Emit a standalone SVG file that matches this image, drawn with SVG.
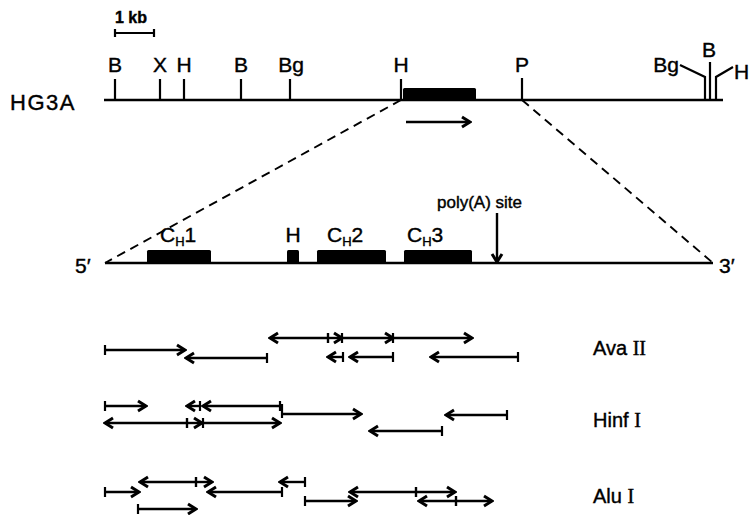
<svg xmlns="http://www.w3.org/2000/svg" width="750" height="515" viewBox="0 0 750 515">
<defs>
<style>
.ln{stroke:#000;stroke-width:2.4;fill:none}
.sk{stroke:#000;stroke-width:2.2;fill:none}
.ds{stroke:#000;stroke-width:1.9;fill:none;stroke-dasharray:9 6}
.s{stroke:#000;stroke-width:2.4;fill:none;marker-start:url(#tk);marker-end:url(#ah)}
.a{stroke:#000;stroke-width:2.4;fill:none;marker-end:url(#ah)}
.ex{fill:#000}
text{font-family:"Liberation Sans","DejaVu Sans",Arial,sans-serif;fill:#000;stroke:#000;stroke-width:0.4}
.lb{font-size:21px}
.rn{font-family:"Liberation Serif","DejaVu Serif",serif}
</style>
<marker id="ah" viewBox="-11 -7 13 14" refX="0" refY="0" markerWidth="13" markerHeight="14" markerUnits="userSpaceOnUse" orient="auto-start-reverse">
<path d="M-8,-5 L0,0 L-8,5" fill="none" stroke="#000" stroke-width="3"/>
</marker>
<marker id="tk" viewBox="-3 -6 6 12" refX="0" refY="0" markerWidth="6" markerHeight="12" markerUnits="userSpaceOnUse" orient="auto">
<path d="M0,-5 V5" stroke="#000" stroke-width="2.2"/>
</marker>
</defs>
<rect width="750" height="515" fill="#fff"/>

<g id="scale">
<text x="115" y="23" font-size="16" font-weight="bold">1 kb</text>
<path class="sk" d="M115,33 H154 M115,29 V37 M154,29 V37"/>
</g>

<g id="hg3a-map">
<text x="10" y="110" font-size="22" letter-spacing="1.5">HG3A</text>
<path class="ln" d="M104,100 H723"/>
<path class="sk" d="M115,79 V100 M160,79 V100 M184,79 V100 M241,79 V100 M290,79 V100 M401,79 V100 M522,78 V100"/>
<path class="sk" d="M680,65 L705,77 V100 M710,62 V100 M733,67 L716,77 V100"/>
<rect class="ex" x="403" y="88" width="73" height="12" rx="1.5"/>
<g class="lb" text-anchor="middle">
<text x="115" y="72">B</text>
<text x="160" y="72">X</text>
<text x="184" y="72">H</text>
<text x="241" y="72">B</text>
<text x="291" y="72">Bg</text>
<text x="401" y="72">H</text>
<text x="522" y="72">P</text>
<text x="709" y="57">B</text>
</g>
<text class="lb" x="679" y="72" text-anchor="end">Bg</text>
<text class="lb" x="734" y="79">H</text>
</g>

<g id="expansion">
<path class="ds" d="M401,100 L105,263"/>
<path class="ds" d="M522,100 L713,263"/>
</g>

<g id="gene">
<path class="ln" d="M105,263 H713"/>
<rect class="ex" x="147" y="250" width="64" height="13" rx="1.5"/>
<rect class="ex" x="287" y="250" width="12" height="13" rx="1.5"/>
<rect class="ex" x="317" y="250" width="69" height="13" rx="1.5"/>
<rect class="ex" x="404" y="250" width="68" height="13" rx="1.5"/>
<text class="lb" x="75" y="273">5′</text>
<text class="lb" x="719" y="273">3′</text>
<text class="lb" x="160" y="242">C<tspan font-size="13" dy="4">H</tspan><tspan dy="-4">1</tspan></text>
<text class="lb" x="293" y="242" text-anchor="middle">H</text>
<text class="lb" x="327" y="242">C<tspan font-size="13" dy="4">H</tspan><tspan dy="-4">2</tspan></text>
<text class="lb" x="407" y="242">C<tspan font-size="13" dy="4">H</tspan><tspan dy="-4">3</tspan></text>
<text x="437" y="208" font-size="17">poly(A) site</text>
</g>

<g id="labels" font-size="20">
<text x="593" y="355">Ava <tspan class="rn">II</tspan></text>
<text x="593" y="427">Hinf <tspan class="rn">I</tspan></text>
<text x="593" y="503">Alu <tspan class="rn">I</tspan></text>
</g>

<g id="connectors">
<line class="a" x1="406" y1="122" x2="470" y2="122"/>
<line class="a" x1="497" y1="213" x2="497" y2="262"/>

<line class="s" x1="105" y1="350" x2="185" y2="350"/>
<line class="s" x1="267" y1="358" x2="186" y2="358"/>
<line class="s" x1="328" y1="338" x2="270" y2="338"/>
<line class="s" x1="328" y1="338" x2="342" y2="338"/>
<line class="s" x1="342" y1="338" x2="393" y2="338"/>
<line class="s" x1="393" y1="338" x2="472" y2="338"/>
<line class="s" x1="343" y1="357" x2="328" y2="357"/>
<line class="s" x1="393" y1="357" x2="350" y2="357"/>
<line class="s" x1="518" y1="357" x2="431" y2="357"/>

<line class="s" x1="105" y1="406" x2="146" y2="406"/>
<line class="s" x1="200" y1="406" x2="187" y2="406"/>
<line class="s" x1="280" y1="406" x2="203" y2="406"/>
<line class="s" x1="187" y1="423" x2="105" y2="423"/>
<line class="s" x1="187" y1="423" x2="202" y2="423"/>
<line class="s" x1="203" y1="423" x2="280" y2="423"/>
<line class="a" x1="282" y1="414" x2="361" y2="414"/>
<path class="sk" d="M282,404 V418"/>
<line class="s" x1="507" y1="415" x2="446" y2="415"/>
<line class="s" x1="442" y1="431" x2="370" y2="431"/>

<line class="s" x1="105" y1="492" x2="139" y2="492"/>
<line class="s" x1="196" y1="482" x2="140" y2="482"/>
<line class="s" x1="196" y1="482" x2="212" y2="482"/>
<line class="s" x1="282" y1="492" x2="208" y2="492"/>
<line class="s" x1="138" y1="509" x2="196" y2="509"/>
<line class="s" x1="305" y1="482" x2="280" y2="482"/>
<line class="s" x1="305" y1="501" x2="356" y2="501"/>
<line class="s" x1="416" y1="492" x2="350" y2="492"/>
<line class="s" x1="416" y1="492" x2="455" y2="492"/>
<line class="s" x1="456" y1="501" x2="419" y2="501"/>
<line class="s" x1="456" y1="501" x2="492" y2="501"/>
</g>
</svg>
